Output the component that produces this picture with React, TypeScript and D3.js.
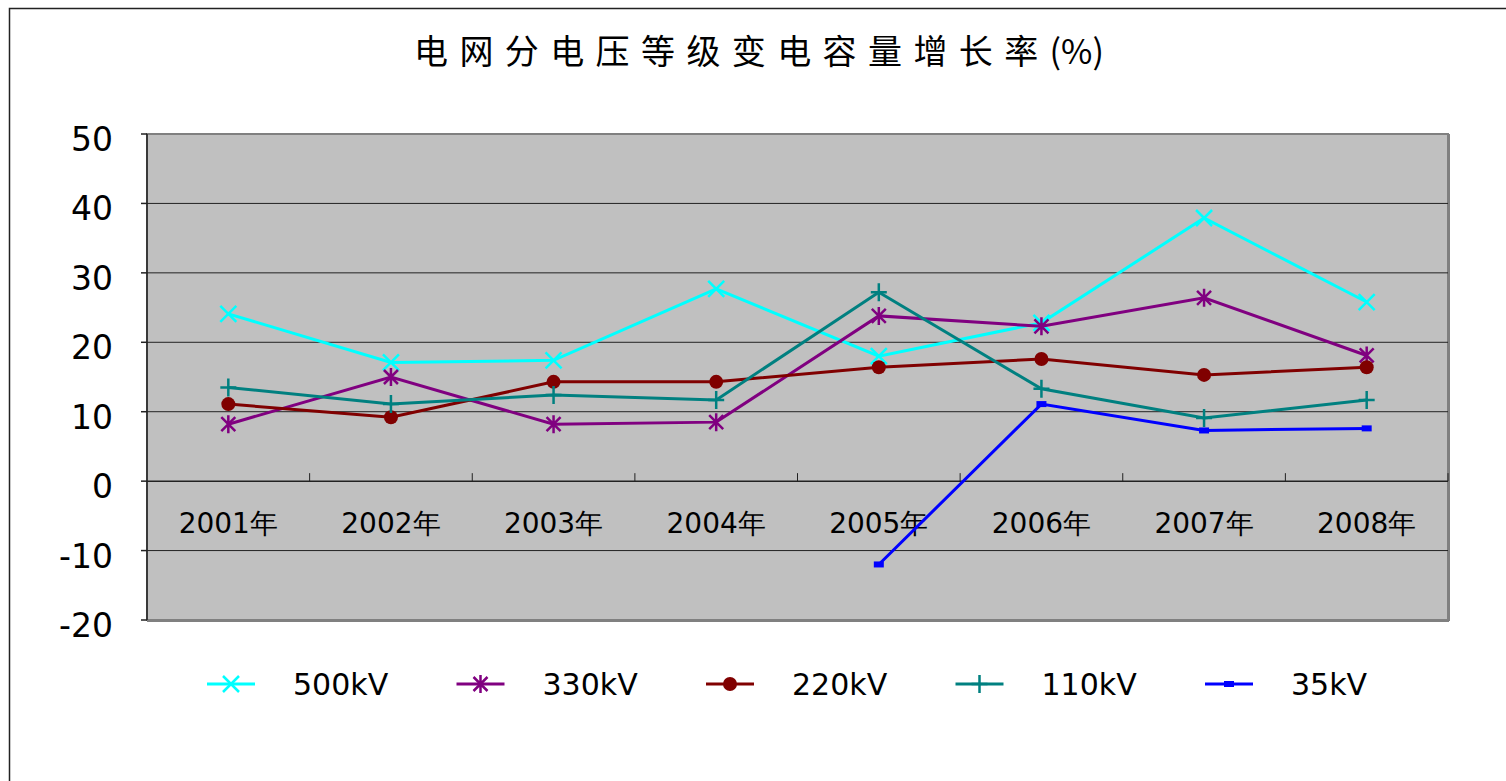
import React from 'react'
import * as d3 from 'd3'

const years = ['2001年', '2002年', '2003年', '2004年', '2005年', '2006年', '2007年', '2008年']
const yTicks = [50, 40, 30, 20, 10, 0, -10, -20]

const kv500 = [24.1, 17.1, 17.4, 27.7, 18.0, 22.8, 37.9, 25.8]
const kv330 = [8.2, 15.0, 8.2, 8.5, 23.8, 22.3, 26.4, 18.1]
const kv220 = [11.1, 9.2, 14.3, 14.3, 16.4, 17.6, 15.3, 16.4]
const kv110 = [13.5, 11.1, 12.4, 11.7, 27.2, 13.3, 9.1, 11.7]
const kv35 = [null, null, null, null, -12.0, 11.1, 7.3, 7.6]

const series = [
  { name: '500kV', values: kv500, color: '#00FFFF', marker: 'x' },
  { name: '330kV', values: kv330, color: '#800080', marker: 'star' },
  { name: '220kV', values: kv220, color: '#800000', marker: 'circle' },
  { name: '110kV', values: kv110, color: '#008080', marker: 'plus' },
  { name: '35kV', values: kv35, color: '#0000FF', marker: 'square' },
]

const font = '"DejaVu Sans", sans-serif'

function Marker({ type, x, y, color }: { type: string; x: number; y: number; color: string }) {
  const s = 8
  if (type === 'x') {
    return <path d={`M${x - s},${y - s}L${x + s},${y + s}M${x - s},${y + s}L${x + s},${y - s}`} stroke={color} strokeWidth={2.5} />
  }
  if (type === 'star') {
    return <path d={`M${x - 7},${y - 7}L${x + 7},${y + 7}M${x - 7},${y + 7}L${x + 7},${y - 7}M${x},${y - 9}L${x},${y + 9}`} stroke={color} strokeWidth={2.5} />
  }
  if (type === 'circle') {
    return <circle cx={x} cy={y} r={7} fill={color} />
  }
  if (type === 'plus') {
    return <path d={`M${x - 8},${y}L${x + 8},${y}M${x},${y - 9}L${x},${y + 9}`} stroke={color} strokeWidth={2.5} />
  }
  return <rect x={x - 5} y={y - 3} width={10} height={6} fill={color} />
}

export default function App() {
  const left = 147
  const right = 1448
  const top = 134
  const bottom = 620

  const x = d3.scaleBand().domain(years).range([left, right])
  const y = d3.scaleLinear().domain([-20, 50]).range([bottom, top])

  const line = d3.line<number | null>()
    .defined(d => d !== null)
    .x((d, i) => (x(years[i]) as number) + x.bandwidth() / 2)
    .y(d => y(d as number))

  const legendX = d3.scalePoint().domain(series.map(s => s.name)).range([207, 1205])

  return (
    <svg width={1506} height={781} style={{ position: 'absolute', left: 0, top: 0, display: 'block', background: '#fff' }}>
      <rect x={9.5} y={8.5} width={1600} height={900} fill="#fff" stroke="#222" strokeWidth={1.5} />

      <text x={414} y={64} fontFamily='"Noto Sans CJK SC", sans-serif' fontSize={34} fill="#000">
        <tspan letterSpacing={11.4}>电网分电压等级变电容量增长率</tspan>
        <tspan>(%)</tspan>
      </text>

      <rect x={left} y={top} width={right - left} height={bottom - top} fill="#C0C0C0" stroke="#808080" strokeWidth={2} />
      <line x1={left} x2={right + 1} y1={bottom + 1} y2={bottom + 1} stroke="#808080" strokeWidth={2} />
      <line x1={right + 1} x2={right + 1} y1={top} y2={bottom + 1} stroke="#808080" strokeWidth={2} />

      {yTicks.filter(t => t !== 50 && t !== -20 && t !== 0).map(t => (
        <line key={t} x1={left} x2={right} y1={y(t)} y2={y(t)} stroke="#222" strokeWidth={1} />
      ))}
      <line x1={left} x2={left} y1={top} y2={bottom} stroke="#222" strokeWidth={1.5} />
      {yTicks.map(t => (
        <g key={t}>
          <line x1={left - 6} x2={left} y1={y(t)} y2={y(t)} stroke="#222" strokeWidth={1.5} />
          <text x={113} y={y(t) + 17} textAnchor="end" fontFamily={font} fontSize={33} fill="#000">{t}</text>
        </g>
      ))}

      <line x1={left} x2={right} y1={y(0)} y2={y(0)} stroke="#222" strokeWidth={1.5} />
      {years.map((yr, i) => (
        <g key={yr}>
          <line x1={(x(yr) as number) + x.bandwidth()} x2={(x(yr) as number) + x.bandwidth()} y1={y(0)} y2={y(0) - 8} stroke="#222" strokeWidth={1} />
          <text x={(x(yr) as number) + x.bandwidth() / 2} y={y(0) + 52} textAnchor="middle" fontFamily={font} fontSize={28} fill="#000">{yr}</text>
        </g>
      ))}

      {series.map(s => (
        <g key={s.name}>
          <path d={line(s.values) || ''} fill="none" stroke={s.color} strokeWidth={3} />
          {s.values.map((v, i) => v === null ? null : (
            <Marker key={i} type={s.marker} x={(x(years[i]) as number) + x.bandwidth() / 2} y={y(v)} color={s.color} />
          ))}
        </g>
      ))}

      {series.map(s => {
        const lx = legendX(s.name) as number
        return (
          <g key={s.name}>
            <line x1={lx} x2={lx + 48} y1={684} y2={684} stroke={s.color} strokeWidth={3} />
            <Marker type={s.marker} x={lx + 24} y={684} color={s.color} />
            <text x={lx + 86} y={695} fontFamily={font} fontSize={30} fill="#000">{s.name}</text>
          </g>
        )
      })}
    </svg>
  )
}
